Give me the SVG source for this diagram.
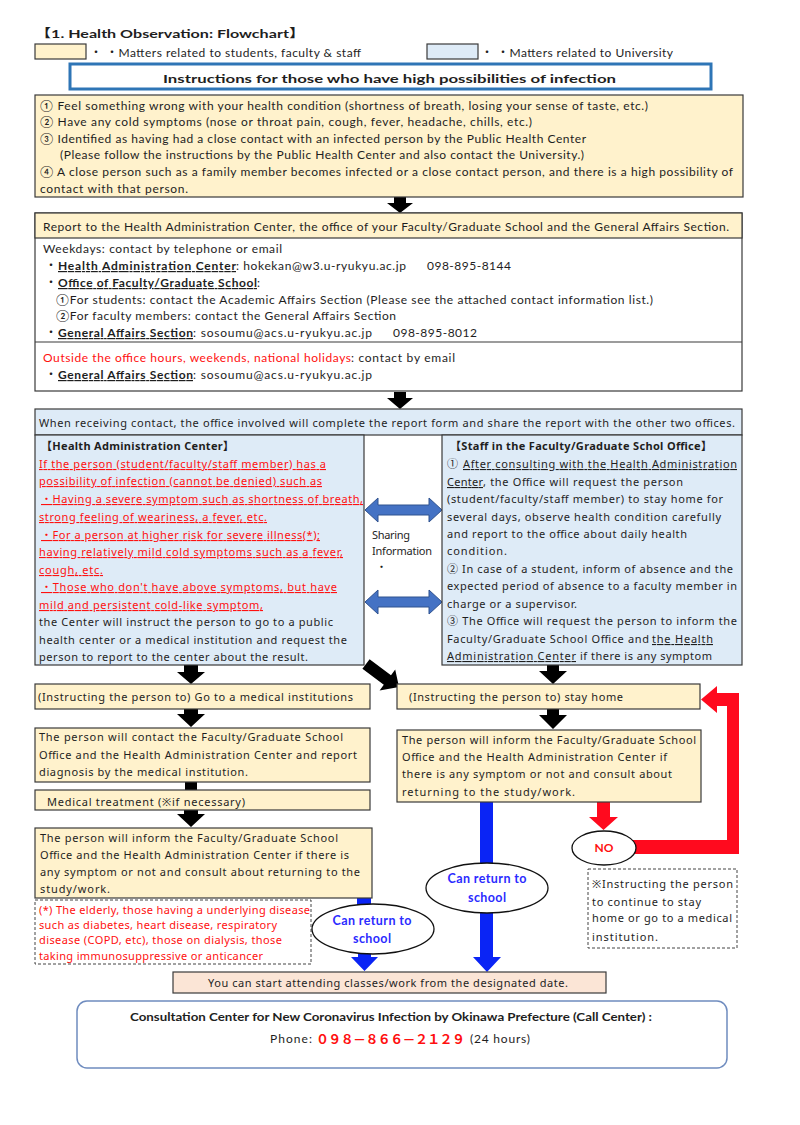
<svg xmlns="http://www.w3.org/2000/svg" width="800" height="1125" viewBox="0 0 800 1125">
<style>
.t{font-family:Lato,"Liberation Sans","Noto Sans CJK JP",sans-serif;font-size:12px;fill:#1e1e1e}
.m{font-family:"Noto Sans","Open Sans","Noto Sans CJK JP",sans-serif;font-size:11px;fill:#1e1e1e}
.b{font-weight:bold}
.r{fill:#FF1010}
.u{text-decoration:underline}
.yel{fill:#FFF2CC;stroke:#3a3a3a;stroke-width:1.2}
.blu{fill:#DEEBF7;stroke:#3a3a3a;stroke-width:1.2}
.wht{fill:#FFFFFF;stroke:#3a3a3a;stroke-width:1.2}
.dash{fill:#FFFFFF;stroke:#444;stroke-width:1;stroke-dasharray:3 2}
.ell{fill:#FFFFFF;stroke:#111;stroke-width:1.3}
.bt{font-family:Lato,"Liberation Sans",sans-serif;font-size:12.5px;font-weight:bold;fill:#2B2BFF}
.blk{fill:#000}
.bla{fill:#0A24F5}
.rda{fill:#FF0A1E}
.dbl{fill:#4472C4;stroke:#2F528F;stroke-width:1}
</style>

<g id="connectors">
  <!-- black arrows -->
  <path class="blk" d="M394,197 H406 V203 H413 L400,213 L387,203 H394 Z"/>
  <path class="blk" d="M394,392 H406 V398 H413 L400,409 L387,398 H394 Z"/>
  <path class="blk" d="M184,665 H198 V672 H205 L191,684 L177,672 H184 Z"/>
  <path class="blk" d="M184,709 H198 V714 H205 L191,727 L177,714 H184 Z"/>
  <rect class="blk" x="185" y="782" width="12" height="8"/>
  <path class="blk" d="M184,810 H198 V814 H205 L191,827 L177,814 H184 Z"/>
  <path class="blk" d="M547,665 H559 V671 H567 L553,684 L539,671 H547 Z"/>
  <path class="blk" d="M547,709 H559 V715 H567 L553,729 L539,715 H547 Z"/>
  <path class="blk" d="M362.4,668.8 L369.6,659.2 L391,675.2 L395.2,669.6 L399,687 L379.6,690.4 L383.8,684.8 Z"/>
  <!-- sharing information double arrows -->
  <path class="dbl" d="M365,510 L378,498 V505 H429 V498 L442,510 L429,522 V515 H378 V522 Z"/>
  <path class="dbl" d="M365,602 L378,590 V597 H429 V590 L442,602 L429,614 V607 H378 V614 Z"/>
  <!-- blue arrows -->
  <rect class="bla" x="357" y="898" width="14" height="10"/>
  <path class="bla" d="M358,952 H371 V957 H378 L364.5,971 L351,957 H358 Z"/>
  <rect class="bla" x="480" y="802" width="13" height="64"/>
  <path class="bla" d="M480,910 H493 V957 H501 L487,972 L473,957 H480 Z"/>
  <!-- red arrows -->
  <path class="rda" d="M597,802 H610 V817 H618 L603.5,830 L589,817 H597 Z"/>
  <path class="rda" d="M630,840 H727 V706 H717 V713 L701,699.5 L717,686 V693 H739 V854 H630 Z"/>
</g>

<g id="title">
  <text class="t b" x="35" y="38" font-size="16.5" textLength="270" lengthAdjust="spacingAndGlyphs">【1. Health Observation: Flowchart】</text>
</g>
<g id="legend-students">
  <rect class="yel" x="35" y="44" width="51" height="15"/>
  <text class="t" x="90" y="57" font-size="11.5" textLength="271">・ ・Matters related to students, faculty &amp; staff</text>
</g>
<g id="legend-university">
  <rect class="blu" x="427" y="44" width="51" height="15"/>
  <text class="t" x="481" y="57" font-size="11.5" textLength="192">・ ・Matters related to University</text>
</g>
<g id="header-box">
  <rect x="70" y="64" width="641" height="25" fill="#fff" stroke="#2E75B6" stroke-width="3"/>
  <text class="t b" x="163" y="82.5" font-size="17" textLength="453" lengthAdjust="spacingAndGlyphs">Instructions for those who have high possibilities of infection</text>
</g>

<g id="conditions">
  <rect class="yel" x="35" y="95" width="708" height="102"/>
  <text class="t" x="40" y="110" textLength="608">① Feel  something wrong with your health condition (shortness of breath, losing your sense of taste, etc.)</text>
  <text class="t" x="40" y="126" textLength="492">② Have  any cold symptoms (nose or throat pain, cough, fever, headache,  chills, etc.)</text>
  <text class="t" x="40" y="143" textLength="546">③ Identified as having had a close contact with an infected person by the Public Health Center</text>
  <text class="t" x="60" y="159" textLength="524">(Please  follow the instructions by the Public Health Center and also contact the University.)</text>
  <text class="t" x="40" y="176" textLength="693">④ A close person such as a family member becomes infected or a close contact person, and there is a high possibility of</text>
  <text class="t" x="40" y="193" textLength="148">contact with that person.</text>
</g>

<g id="report">
  <rect class="wht" x="35" y="213" width="707" height="178"/>
  <rect class="yel" x="35" y="213" width="707" height="25"/>
  <line x1="35" y1="342" x2="742" y2="342" stroke="#3a3a3a" stroke-width="1.2"/>
  <text class="t" x="43" y="231" textLength="686">Report to the Health Administration Center, the office of your Faculty/Graduate School and the General Affairs Section.</text>
  <text class="t" x="43" y="253" textLength="239">Weekdays: contact by telephone or email</text>
  <text class="t" x="45" y="270">・</text>
  <text class="t b u" x="58" y="270" textLength="178">Health Administration Center</text>
  <text class="t" x="236" y="270" textLength="170">: hokekan@w3.u-ryukyu.ac.jp</text>
  <text class="t" x="427" y="270" textLength="84">098-895-8144</text>
  <text class="t" x="45" y="287">・</text>
  <text class="t b u" x="58" y="287" textLength="199">Office of Faculty/Graduate School</text>
  <text class="t" x="257" y="287">:</text>
  <text class="t" x="56" y="304" textLength="597">①For students: contact the Academic Affairs Section (Please see the attached contact information list.)</text>
  <text class="t" x="56" y="320" textLength="340">②For faculty members: contact the General Affairs Section</text>
  <text class="t" x="45" y="337">・</text>
  <text class="t b u" x="58" y="337" textLength="135">General Affairs Section</text>
  <text class="t" x="193" y="337" textLength="179">: sosoumu@acs.u-ryukyu.ac.jp</text>
  <text class="t" x="393" y="337" textLength="84">098-895-8012</text>
  <text class="t r" x="43" y="362" textLength="308">Outside the office hours, weekends, national holidays</text>
  <text class="t" x="351" y="362" textLength="104">: contact by email</text>
  <text class="t" x="45" y="379">・</text>
  <text class="t b u" x="58" y="379" textLength="135">General Affairs Section</text>
  <text class="t" x="193" y="379" textLength="179">: sosoumu@acs.u-ryukyu.ac.jp</text>
</g>

<g id="receiving-header">
  <rect class="blu" x="35" y="409" width="707" height="26"/>
  <text class="m" x="39" y="427" textLength="696">When receiving contact, the office involved will complete the report form and share the report with the other two offices.</text>
</g>

<g id="hac">
  <rect class="blu" x="35" y="435" width="329" height="230"/>
  <text class="m b" x="41" y="450" textLength="193">【Health Administration Center】</text>
  <text class="m r u" x="39" y="468" textLength="287">If the person (student/faculty/staff  member) has a</text>
  <text class="m r u" x="39" y="485" textLength="283">possibility of infection (cannot be denied) such as</text>
  <text class="m r u" x="41" y="503" textLength="322">・Having a severe symptom such as shortness of breath,</text>
  <text class="m r u" x="39" y="521" textLength="228">strong feeling of weariness, a fever,  etc.</text>
  <text class="m r u" x="41" y="539" textLength="279">・For a person at higher risk for severe  illness(*);</text>
  <text class="m r u" x="39" y="556" textLength="304">having  relatively mild cold symptoms such as a fever,</text>
  <text class="m r u" x="39" y="574" textLength="64">cough, etc.</text>
  <text class="m r u" x="41" y="591" textLength="296">・Those who don't have above symptoms, but have</text>
  <text class="m r u" x="39" y="609" textLength="224">mild and persistent cold-like symptom,</text>
  <text class="m" x="39" y="626" textLength="294">the Center will instruct the person to go to a public</text>
  <text class="m" x="39" y="644" textLength="308">health center or a medical institution and request the</text>
  <text class="m" x="39" y="661" textLength="269">person to report to the center about the result.</text>
</g>

<g id="sharing">
  <text class="m" x="372" y="539" font-size="10.5" textLength="38">Sharing</text>
  <text class="m" x="372" y="555" font-size="10.5" textLength="60">Information</text>
  <text class="m" x="376" y="571" font-size="10.5">・</text>
</g>

<g id="staff">
  <rect class="blu" x="442" y="435" width="300" height="230"/>
  <text class="m b" x="450" y="450" textLength="262">【Staff in the Faculty/Graduate Schol Office】</text>
  <text class="m" x="447" y="468">①</text>
  <text class="m u" x="463" y="468" textLength="274">After  consulting with the Health Administration</text>
  <text class="m u" x="447" y="486" textLength="36">Center</text>
  <text class="m" x="483" y="486" textLength="200">, the Office will request the person</text>
  <text class="m" x="447" y="503" textLength="276">(student/faculty/staff member) to stay home for</text>
  <text class="m" x="447" y="521" textLength="274">several days, observe health condition carefully</text>
  <text class="m" x="447" y="538" textLength="240">and report to the office about daily health</text>
  <text class="m" x="447" y="555" textLength="60">condition.</text>
  <text class="m" x="447" y="573" textLength="286">② In case of a student, inform of absence and the</text>
  <text class="m" x="447" y="590" textLength="290">expected period of absence to a faculty member in</text>
  <text class="m" x="447" y="608" textLength="130">charge or a supervisor.</text>
  <text class="m" x="447" y="625" textLength="290">③ The Office will request the person to inform the</text>
  <text class="m" x="447" y="643" textLength="202">Faculty/Graduate School Office and</text>
  <text class="m u" x="652" y="643" textLength="61">the Health</text>
  <text class="m u" x="447" y="660" textLength="129">Administration Center</text>
  <text class="m" x="580" y="660" textLength="132">if there is any symptom</text>
</g>

<g id="go-medical">
  <rect class="yel" x="35" y="684" width="335" height="25"/>
  <text class="m" x="38" y="701" textLength="315">(Instructing the person to) Go to a medical institutions</text>
</g>
<g id="contact-report">
  <rect class="yel" x="35" y="728" width="335" height="54"/>
  <text class="m" x="39" y="741" textLength="304">The person will contact the Faculty/Graduate School</text>
  <text class="m" x="39" y="759" textLength="318">Office and the Health Administration Center and report</text>
  <text class="m" x="39" y="776" textLength="209">diagnosis by the medical institution.</text>
</g>
<g id="treatment">
  <rect class="yel" x="35" y="790" width="335" height="20"/>
  <text class="m" x="47" y="806" textLength="198">Medical treatment (※if necessary)</text>
</g>
<g id="inform-left">
  <rect class="yel" x="35" y="828" width="337" height="70"/>
  <text class="m" x="40" y="842" textLength="298">The person will inform the Faculty/Graduate School</text>
  <text class="m" x="40" y="859" textLength="309">Office and the Health Administration Center if there is</text>
  <text class="m" x="40" y="876" textLength="320">any symptom or not and consult about returning to the</text>
  <text class="m" x="40" y="893" textLength="70">study/work.</text>
</g>
<g id="note-elderly">
  <rect class="dash" x="35" y="900" width="276" height="64"/>
  <text class="m r" x="39" y="914" textLength="271">(*) The elderly, those having a underlying disease</text>
  <text class="m r" x="39" y="929" textLength="238">such as diabetes, heart disease, respiratory</text>
  <text class="m r" x="39" y="944" textLength="243">disease (COPD, etc), those on dialysis, those</text>
  <text class="m r" x="39" y="960" textLength="224">taking immunosuppressive or anticancer</text>
</g>
<g id="return-left">
  <ellipse class="ell" cx="373" cy="929" rx="61" ry="25"/>
  <text class="bt" x="372" y="925" text-anchor="middle" textLength="79">Can return to</text>
  <text class="bt" x="372" y="943" text-anchor="middle" textLength="38">school</text>
</g>

<g id="stay-home">
  <rect class="yel" x="397" y="684" width="303" height="25"/>
  <text class="m" x="409" y="701" textLength="214">(Instructing the person to) stay home</text>
</g>
<g id="inform-right">
  <rect class="yel" x="397" y="730" width="304" height="72"/>
  <text class="m" x="402" y="744" textLength="294">The person will inform the Faculty/Graduate School</text>
  <text class="m" x="402" y="761" textLength="265">Office and the Health Administration Center if</text>
  <text class="m" x="402" y="778" textLength="270">there is any symptom or not and consult about</text>
  <text class="m" x="402" y="796" textLength="173">returning to the study/work.</text>
</g>
<g id="return-right">
  <ellipse class="ell" cx="487" cy="888" rx="61" ry="25"/>
  <text class="bt" x="487" y="883" text-anchor="middle" textLength="79">Can return to</text>
  <text class="bt" x="487" y="902" text-anchor="middle" textLength="38">school</text>
</g>
<g id="no">
  <ellipse class="ell" cx="604" cy="848" rx="32" ry="17"/>
  <text class="t b r" x="604" y="852" text-anchor="middle">NO</text>
</g>
<g id="note-continue">
  <rect class="dash" x="588" y="869" width="149" height="79"/>
  <text class="m" x="592" y="888" textLength="141">※Instructing the person</text>
  <text class="m" x="592" y="906" textLength="109">to continue to stay</text>
  <text class="m" x="592" y="922" textLength="140">home or go to a medical</text>
  <text class="m" x="592" y="941" textLength="66">institution.</text>
</g>

<g id="start-date">
  <rect x="173" y="972" width="433" height="21" fill="#FBE5D6" stroke="#3a3a3a" stroke-width="1.2"/>
  <text class="m" x="208" y="987" textLength="360">You can start attending classes/work from the designated date.</text>
</g>

<g id="call-center">
  <rect x="77" y="1001" width="650" height="67" rx="10" fill="#fff" stroke="#6F8CBF" stroke-width="1.5"/>
  <text class="t b" x="130" y="1021" font-size="12.5" textLength="522" lengthAdjust="spacingAndGlyphs">Consultation Center for New Coronavirus Infection by Okinawa  Prefecture (Call Center) :</text>
  <text class="t" x="270" y="1043" font-size="12.5" textLength="42">Phone:</text>
  <text x="316" y="1044" font-family="'Noto Sans CJK JP',sans-serif" font-size="13" font-weight="bold" fill="#FF1010" textLength="149">０９８－８６６－２１２９</text>
  <text class="t" x="470" y="1043" font-size="12.5" textLength="60">(24 hours)</text>
</g>
</svg>
